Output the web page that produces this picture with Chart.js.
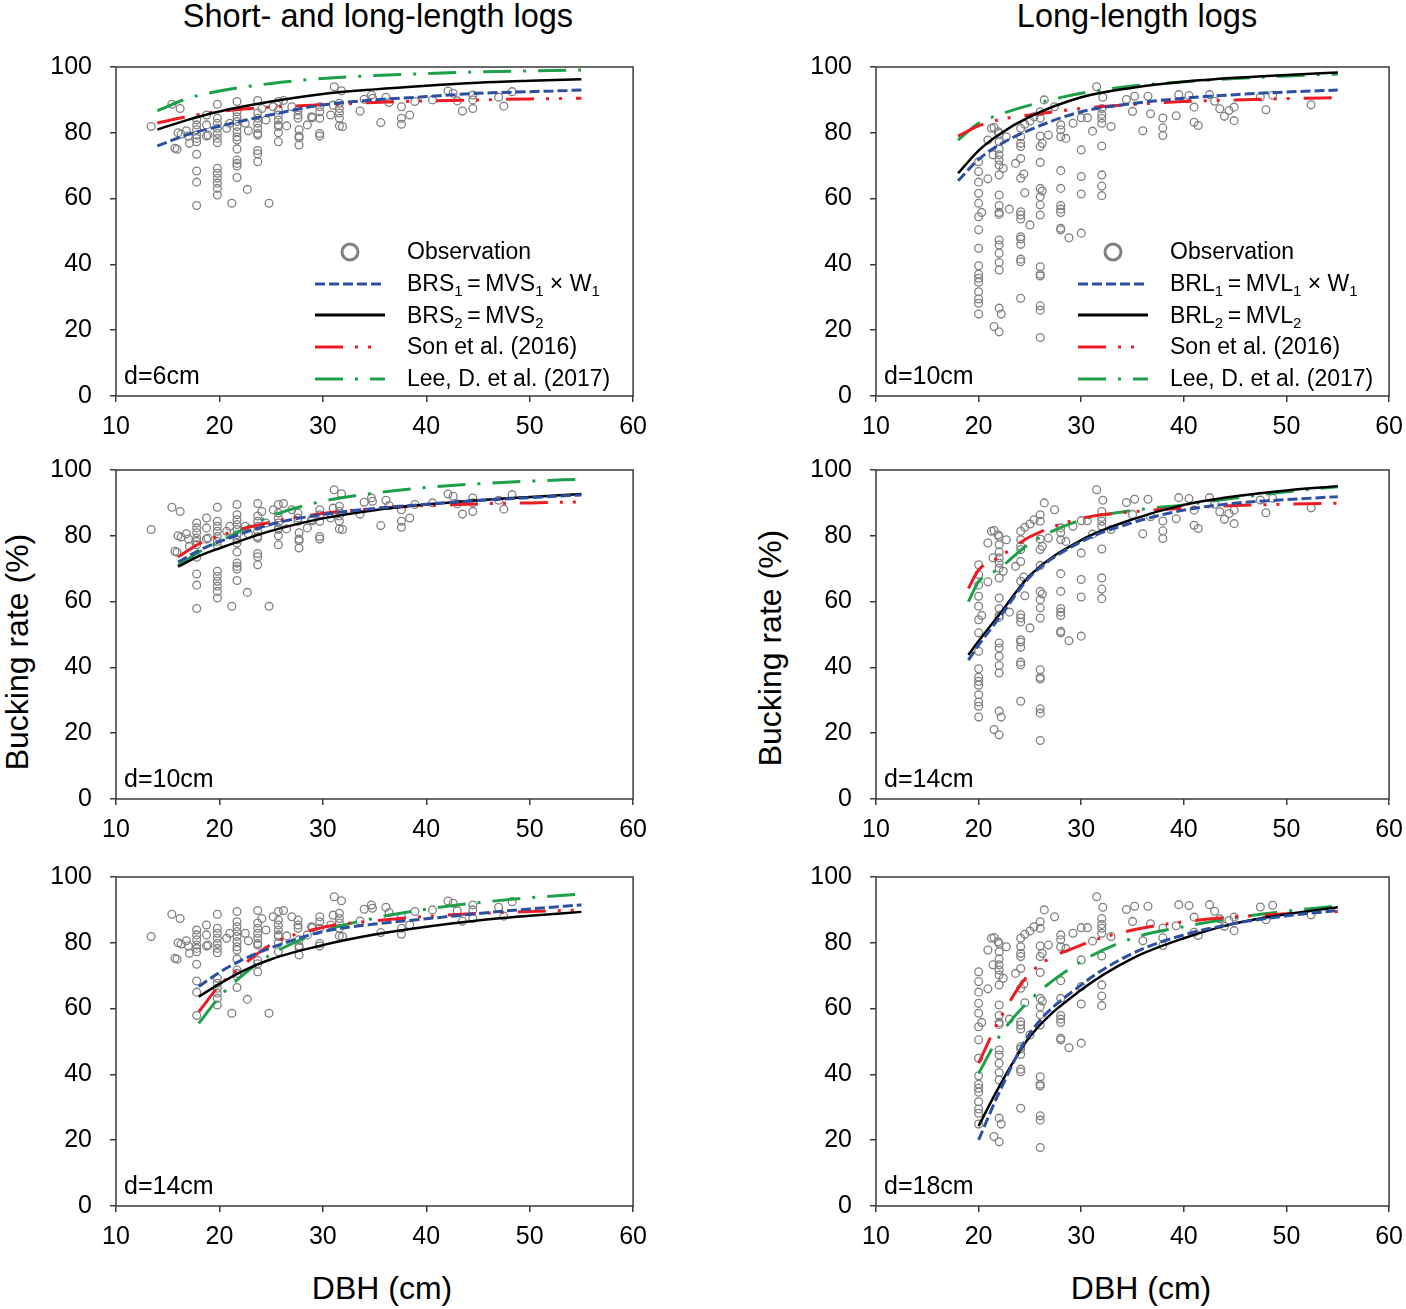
<!DOCTYPE html>
<html>
<head>
<meta charset="utf-8">
<script src="https://cdn.jsdelivr.net/npm/chart.js@4.4.1/dist/chart.umd.min.js"></script>
<style>
  body { margin: 0; background: #fff; }
  #page { position: relative; width: 1406px; height: 1309px; font-family: "Liberation Sans", Arial, sans-serif; color: #000; }
  #page canvas { position: absolute; }
  .txt { position: absolute; white-space: nowrap; transform: translate(-50%, -50%); }
  .title { font-size: 32.5px; }
  .axis { font-size: 32px; }
  .rot { transform: translate(-50%, -50%) rotate(-90deg); }
  .legend { position: absolute; font-size: 23px; }
  .legend .row { display: flex; align-items: center; height: 31.7px; }
  .legend svg { width: 70px; height: 20px; margin-right: 22px; flex: none; }
  .legend sub { font-size: 15px; vertical-align: -5px; line-height: 0; }
</style>
</head>
<body>
<div id="page">
  <div class="txt title" style="left:378px;top:16px">Short- and long-length logs</div>
  <div class="txt title" style="left:1137px;top:16px">Long-length logs</div>
  <div class="txt axis rot" style="left:17px;top:652px">Bucking rate (%)</div>
  <div class="txt axis rot" style="left:770px;top:648px">Bucking rate (%)</div>
  <div class="txt axis" style="left:382px;top:1288px">DBH (cm)</div>
  <div class="txt axis" style="left:1141px;top:1288px">DBH (cm)</div>
</div>
<script>
// ticks
const xTicks = [10, 20, 30, 40, 50, 60]
const yTicks = [0, 20, 40, 60, 80, 100]

// observations, short- and long-length logs (left column)
const obsShortDbh = [13.4, 15.4, 16.2, 15.7, 15.9, 16.0, 16.3, 16.8, 17.0, 17.1,
  17.8, 17.8, 17.8, 17.8, 17.8, 17.8, 17.8, 17.8, 17.8, 17.8,
  18.75, 18.75, 18.75, 19.8, 19.8, 19.8, 19.8, 19.8, 19.8, 19.8,
  19.8, 19.8, 19.8, 19.8, 19.8, 19.8, 20.7, 21.0, 21.2, 21.7,
  21.7, 21.7, 21.7, 21.7, 21.7, 21.7, 21.7, 21.7, 21.7, 21.7,
  21.7, 21.7, 22.7, 22.5, 22.8, 23.7, 23.7, 23.7, 23.7, 23.7,
  23.7, 23.7, 23.7, 23.7, 23.7, 24.8, 24.5, 25.2, 25.7, 26.2,
  25.7, 25.7, 25.7, 25.7, 25.7, 25.7, 25.7, 26.5, 27.0, 27.6,
  27.6, 27.6, 27.7, 27.7, 27.7, 27.7, 28.5, 28.9, 29.7, 29.7,
  29.7, 29.7, 29.7, 30.75, 31.1, 31.8, 31.0, 31.6, 31.6, 31.6,
  31.6, 31.6, 33.6, 34.0, 34.7, 34.8, 35.6, 36.1, 36.4, 37.6,
  37.6, 37.6, 38.4, 38.9, 40.6, 42.1, 42.6, 43.0, 43.5, 44.5,
  44.5, 44.5, 47.0, 47.5, 48.3, 18.9, 24.1, 29.0, 31.9]
const obsShortRate = [81.9, 88.7, 87.4, 75.3, 75.0, 80.0, 79.6, 80.6, 79.0, 76.8,
  83.9, 82.4, 80.9, 79.3, 78.3, 77.3, 73.5, 68.4, 65.0, 57.9,
  85.4, 82.4, 79.0, 88.7, 84.4, 82.9, 81.4, 79.8, 78.3, 77.0,
  69.2, 67.7, 66.2, 64.7, 63.1, 61.1, 81.4, 82.9, 58.6, 89.5,
  86.4, 84.9, 83.4, 81.9, 80.3, 78.8, 77.8, 75.1, 71.7, 70.7,
  69.9, 66.4, 62.8, 82.9, 80.6, 89.8, 86.0, 84.4, 82.9, 81.4,
  79.8, 79.3, 74.6, 73.6, 71.2, 58.6, 83.9, 87.9, 89.5, 89.8,
  86.9, 85.4, 83.9, 82.4, 81.9, 80.0, 77.3, 82.1, 87.9, 86.9,
  85.4, 84.4, 80.9, 79.0, 78.5, 76.3, 82.4, 84.9, 87.9, 86.4,
  84.4, 79.8, 79.0, 85.4, 94.0, 92.8, 88.4, 89.0, 87.4, 86.0,
  84.4, 82.1, 86.6, 90.2, 91.5, 90.5, 83.1, 90.8, 89.2, 87.9,
  84.4, 82.6, 85.4, 89.5, 90.0, 92.7, 92.0, 89.7, 86.6, 91.5,
  90.0, 87.4, 90.8, 88.1, 92.5, 79.3, 87.4, 84.6, 81.9]

// observations, long-length logs (right column)
const obsLongDbh = [21.5, 20.9, 20.0, 20.0, 20.0, 20.0, 20.0, 20.0, 20.0, 20.0,
  20.0, 20.0, 20.0, 20.0, 20.0, 20.0, 20.0, 20.0, 20.3, 20.9,
  21.5, 22.0, 22.0, 22.0, 22.0, 22.0, 22.0, 22.0, 22.0, 21.4,
  22.4, 22.0, 22.0, 22.0, 22.0, 22.0, 22.0, 22.0, 22.0, 22.0,
  22.0, 22.2, 23.0, 23.6, 24.1, 24.1, 24.1, 24.1, 24.1, 24.1,
  24.4, 24.5, 24.1, 24.1, 24.1, 25.0, 24.1, 24.1, 24.1, 24.1,
  24.1, 24.1, 24.5, 25.0, 25.4, 26.0, 26.4, 27.4, 26.0, 26.0,
  26.2, 26.0, 26.0, 26.0, 26.2, 26.0, 26.0, 26.0, 26.0, 26.0,
  26.0, 26.0, 26.0, 26.0, 26.8, 28.0, 28.0, 28.0, 28.0, 28.0,
  28.0, 28.0, 28.0, 28.0, 28.0, 28.8, 28.5, 29.2, 30.0, 30.6,
  30.0, 30.0, 30.0, 30.0, 31.1, 31.5, 32.0, 32.0, 32.0, 32.0,
  32.0, 32.0, 32.0, 32.0, 32.9, 32.1, 34.4, 35.2, 35.0, 36.5,
  36.75, 36.0, 37.95, 37.95, 37.95, 39.25, 39.5, 40.5, 41.0, 41.0,
  41.4, 42.5, 43.0, 43.5, 43.95, 44.4, 44.9, 44.9, 47.45, 48.65,
  48.0, 52.4, 21.25, 21.9, 22.7]
const obsLongRate = [81.6, 77.8, 71.2, 68.2, 65.0, 61.6, 58.6, 54.5, 50.5, 44.9,
  39.6, 37.0, 35.8, 34.6, 31.7, 29.5, 28.2, 24.9, 55.8, 66.0,
  21.1, 19.5, 79.8, 77.3, 75.1, 73.3, 71.7, 70.2, 67.2, 73.3,
  69.2, 61.1, 57.9, 55.8, 55.2, 47.4, 45.9, 43.4, 40.6, 38.3,
  26.7, 24.9, 56.8, 70.7, 81.4, 78.8, 76.8, 75.8, 72.2, 66.2,
  67.5, 61.8, 56.0, 55.0, 53.8, 52.0, 48.4, 47.7, 46.1, 41.6,
  40.8, 29.7, 82.6, 83.6, 84.9, 86.4, 90.0, 87.9, 84.4, 79.0,
  76.8, 75.8, 71.0, 63.1, 62.3, 60.6, 58.1, 55.0, 39.3, 37.0,
  36.5, 27.4, 26.1, 17.8, 79.3, 82.4, 80.9, 78.8, 68.5, 63.1,
  57.9, 56.8, 55.8, 51.0, 50.5, 48.1, 78.3, 82.9, 84.6, 84.6,
  74.8, 66.7, 61.4, 49.5, 80.5, 94.0, 87.4, 85.6, 84.4, 82.9,
  76.0, 67.2, 63.8, 60.9, 81.9, 90.8, 90.1, 91.1, 86.5, 91.1,
  85.8, 80.6, 84.5, 81.5, 79.2, 85.2, 91.6, 91.3, 87.8, 83.2,
  82.2, 91.6, 89.6, 87.3, 85.0, 86.8, 87.8, 83.7, 90.9, 91.4,
  87.0, 88.5, 81.4, 80.3, 78.8]

// model curves, short- and long-length logs
const s6Dbh = [14, 17, 20, 25, 30, 35, 40, 45, 50, 55]
const s6Brs1 = [76, 79.5, 82, 85.5, 88.5, 90, 91, 92, 92.5, 93]
const s6Brs2 = [81, 84, 86.5, 89.5, 91.8, 93.2, 94.3, 95.2, 95.8, 96.3]
const s6Son = [83, 85, 86.5, 87.8, 88.5, 89.2, 89.7, 90, 90.3, 90.5]
const s6Lee = [86.7, 90.5, 92.7, 95, 96.5, 97.4, 98, 98.5, 98.8, 99.1]

const s10Dbh = [16, 18, 20, 25, 30, 35, 40, 45, 50, 55]
const s10Brs1 = [72, 75.5, 78.2, 83.5, 86.5, 88.3, 89.6, 90.7, 91.6, 92.4]
const s10Brs2 = [70.6, 73.8, 76.2, 81.5, 85.3, 87.8, 89.5, 90.8, 91.8, 92.7]
const s10Son = [73.6, 77.5, 80, 84.2, 86.8, 88.3, 89.2, 89.7, 90, 90.3]
const s10Lee = [71, 75, 78.2, 86, 90.5, 93, 94.7, 95.8, 96.6, 97.2]

const s14Dbh = [18, 20, 22, 25, 30, 35, 40, 45, 50, 55]
const s14Brs1 = [66.7, 71, 74.5, 78.5, 83.4, 85.7, 87.3, 88.9, 90.3, 91.5]
const s14Brs2 = [63.6, 67.5, 71, 75, 79.3, 82.5, 84.9, 86.8, 88.2, 89.4]
const s14Son = [59, 67, 72.5, 79.5, 84.7, 86.7, 88, 88.9, 89.5, 90]
const s14Lee = [55.5, 63.5, 69.5, 76.5, 83.5, 87.5, 90.2, 92.2, 93.7, 94.8]

// model curves, long-length logs
const l10Dbh = [18, 20, 22, 25, 30, 35, 40, 45, 50, 55]
const l10Brl1 = [65.4, 71.9, 76.3, 80.9, 86.4, 88.9, 90.5, 91.6, 92.4, 93]
const l10Brl2 = [67.7, 74.6, 79.5, 84.9, 90.8, 93.7, 95.5, 96.7, 97.6, 98.3]
const l10Son = [79, 82.1, 84, 85.4, 87.4, 88.6, 89.5, 90, 90.4, 90.7]
const l10Lee = [77.8, 82.9, 85.5, 88.4, 92, 94.2, 95.5, 96.5, 97.3, 97.9]

const l14Dbh = [19, 20, 22, 25, 30, 35, 40, 45, 50, 55]
const l14Brl1 = [42.2, 46.8, 55, 67.5, 78.2, 84, 87.8, 89.9, 91, 91.9]
const l14Brl2 = [43.8, 48, 56, 68, 78.7, 85, 89.4, 92, 93.8, 95.1]
const l14Son = [64, 69.6, 73.5, 79.7, 85.3, 87.3, 88.4, 89.2, 89.6, 89.9]
const l14Lee = [60, 66, 70, 77.7, 84.8, 87.7, 89.4, 91.5, 93.4, 94.9]

const l18Dbh = [20, 22, 25, 30, 35, 40, 45, 50, 55]
const l18Brl1 = [20.1, 34.5, 52.5, 67.2, 76.8, 82.4, 85.9, 88.2, 89.8]
const l18Brl2 = [24.3, 36.3, 51.5, 65.7, 75.3, 81.4, 85.9, 88.7, 90.8]
const l18Son = [43.4, 56.5, 70.7, 79.3, 83.9, 86.4, 87.9, 88.8, 89.5]
const l18Lee = [40.3, 51.5, 62.6, 74.3, 81.4, 84.9, 87.6, 89.6, 91.2]

const legendShort = ['Observation', 'BRS<sub>1</sub>&thinsp;=&thinsp;MVS<sub>1</sub> × W<sub>1</sub>',
  'BRS<sub>2</sub>&thinsp;=&thinsp;MVS<sub>2</sub>', 'Son et al. (2016)', 'Lee, D. et al. (2017)']
const legendLong = ['Observation', 'BRL<sub>1</sub>&thinsp;=&thinsp;MVL<sub>1</sub> × W<sub>1</sub>',
  'BRL<sub>2</sub>&thinsp;=&thinsp;MVL<sub>2</sub>', 'Son et al. (2016)', 'Lee, D. et al. (2017)']

const FONT = '"Liberation Sans", Arial, sans-serif'
Chart.defaults.font.family = FONT

const lineStyles = [
  { color: '#2d4fa3', dash: [10, 4] },
  { color: '#000000', dash: [] },
  { color: '#ed1c24', dash: [28, 12, 3, 10, 3, 14] },
  { color: '#1ca14a', dash: [28, 12, 3, 12] }
]

// plot box of every panel on the page: left, top, width, height
const panels = [
  { box: [116, 67, 518, 329], label: 'd=6cm', obs: [obsShortDbh, obsShortRate], dbh: s6Dbh, lines: [s6Brs1, s6Brs2, s6Son, s6Lee], legend: legendShort, legendAt: [315, 236] },
  { box: [116, 470, 518, 329], label: 'd=10cm', obs: [obsShortDbh, obsShortRate], dbh: s10Dbh, lines: [s10Brs1, s10Brs2, s10Son, s10Lee] },
  { box: [116, 877, 518, 329], label: 'd=14cm', obs: [obsShortDbh, obsShortRate], dbh: s14Dbh, lines: [s14Brs1, s14Brs2, s14Son, s14Lee] },
  { box: [876, 67, 514, 329], label: 'd=10cm', obs: [obsLongDbh, obsLongRate], dbh: l10Dbh, lines: [l10Brl1, l10Brl2, l10Son, l10Lee], legend: legendLong, legendAt: [1078, 236] },
  { box: [876, 470, 514, 329], label: 'd=14cm', obs: [obsLongDbh, obsLongRate], dbh: l14Dbh, lines: [l14Brl1, l14Brl2, l14Son, l14Lee] },
  { box: [876, 877, 514, 329], label: 'd=18cm', obs: [obsLongDbh, obsLongRate], dbh: l18Dbh, lines: [l18Brl1, l18Brl2, l18Son, l18Lee] }
]

// box round the plot area and the panel label in its lower left corner
const framePlugin = {
  id: 'frame',
  afterDraw(chart, args, opts) {
    const { ctx, chartArea: a } = chart
    ctx.save()
    ctx.strokeStyle = '#3a3a3a'
    ctx.lineWidth = 1.5
    ctx.strokeRect(a.left, a.top, a.right - a.left, a.bottom - a.top)
    ctx.font = '25px ' + FONT
    ctx.fillStyle = '#000'
    ctx.textBaseline = 'alphabetic'
    ctx.fillText(opts.text, a.left + 8, a.bottom - 12)
    ctx.restore()
  }
}

const page = document.getElementById('page')

function htmlLegend(chart, labels, at) {
  const box = document.createElement('div')
  box.className = 'legend'
  box.style.left = at[0] + 'px'
  box.style.top = at[1] + 'px'
  chart.data.datasets.forEach((ds, i) => {
    const row = document.createElement('div')
    row.className = 'row'
    let sample
    if (!ds.showLine) {
      sample = `<circle cx="35" cy="10" r="8" fill="none" stroke="${ds.borderColor}" stroke-width="3"/>`
    } else {
      sample = `<line x1="0" y1="10" x2="70" y2="10" stroke="${ds.borderColor}" stroke-width="3" stroke-dasharray="${ds.borderDash.join(' ') || 'none'}"/>`
    }
    row.innerHTML = `<svg viewBox="0 0 70 20">${sample}</svg><span>${labels[i]}</span>`
    box.appendChild(row)
  })
  page.appendChild(box)
}

function makeChart(canvas, p) {
  const datasets = [{
    label: 'Observation',
    data: p.obs[0].map((x, i) => ({ x: x, y: p.obs[1][i] })),
    showLine: false,
    pointRadius: 3.9,
    pointStyle: 'circle',
    borderColor: '#808080',
    backgroundColor: 'rgba(0,0,0,0)',
    borderWidth: 1.3,
    order: 1
  }]
  p.lines.forEach((vals, k) => {
    datasets.push({
      data: p.dbh.map((x, i) => ({ x: x, y: vals[i] })),
      showLine: true,
      pointRadius: 0,
      borderColor: lineStyles[k].color,
      borderDash: lineStyles[k].dash,
      borderWidth: k === 1 ? 2.5 : 3,
      cubicInterpolationMode: 'monotone',
      fill: false,
      order: 0
    })
  })

  const tickFont = { size: 25, family: FONT }
  const grid = { drawOnChartArea: false, drawTicks: true, tickLength: 6, color: '#3a3a3a', lineWidth: 1.5 }

  return new Chart(canvas, {
    type: 'scatter',
    data: { datasets },
    options: {
      responsive: false,
      maintainAspectRatio: false,
      animation: false,
      layout: { padding: { top: 10, right: 16, left: 0, bottom: 0 } },
      plugins: {
        legend: { display: false },
        tooltip: { enabled: false },
        frame: { text: p.label }
      },
      scales: {
        x: {
          type: 'linear', min: 10, max: 60,
          afterBuildTicks: s => { s.ticks = xTicks.map(v => ({ value: v })) },
          afterFit: s => { s.height = 54 },
          ticks: { font: tickFont, color: '#000', padding: 10, maxRotation: 0 },
          grid: grid,
          border: { display: false }
        },
        y: {
          min: 0, max: 100,
          afterBuildTicks: s => { s.ticks = yTicks.map(v => ({ value: v })) },
          afterFit: s => { s.width = 116 },
          ticks: { font: tickFont, color: '#000', padding: 18 },
          grid: grid,
          border: { display: false }
        }
      }
    },
    plugins: [framePlugin]
  })
}

panels.forEach(p => {
  const [bx, by, bw, bh] = p.box
  const canvas = document.createElement('canvas')
  page.appendChild(canvas)

  // first pass finds how much room the axes take, second pass fits the plot box exactly
  canvas.width = bw + 150
  canvas.height = bh + 100
  let chart = makeChart(canvas, p)
  let a = chart.chartArea
  const extraW = canvas.width - (a.right - a.left)
  const extraH = canvas.height - (a.bottom - a.top)
  chart.destroy()

  canvas.width = bw + extraW
  canvas.height = bh + extraH
  chart = makeChart(canvas, p)
  a = chart.chartArea
  canvas.style.left = (bx - a.left) + 'px'
  canvas.style.top = (by - a.top) + 'px'

  if (p.legend) htmlLegend(chart, p.legend, p.legendAt)
})
</script>
</body>
</html>
